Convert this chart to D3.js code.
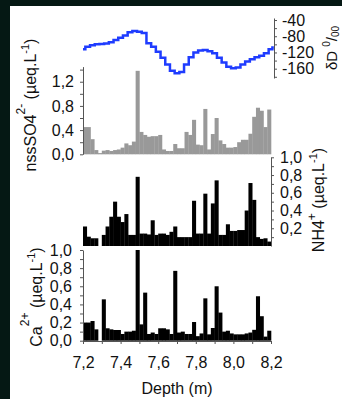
<!DOCTYPE html>
<html>
<head>
<meta charset="utf-8">
<script src="https://cdn.jsdelivr.net/npm/d3@7"></script>
<style>
  html, body { margin: 0; padding: 0; background: #051814; }
  svg { display: block; }
  text { font-family: "Liberation Sans", Arial, sans-serif; fill: #111; }
  .axis path, .axis line { stroke: #555; }
  .axis text { font-size: 16px; fill: #111; }
</style>
</head>
<body>
<script>
// sample depths (m), top of each sample
const depths = [7.20, 7.22, 7.24, 7.26, 7.28, 7.30, 7.32, 7.34, 7.36, 7.38,
  7.40, 7.42, 7.44, 7.46, 7.48, 7.50, 7.52, 7.54, 7.56, 7.58,
  7.60, 7.62, 7.64, 7.66, 7.68, 7.70, 7.72, 7.74, 7.76, 7.78,
  7.80, 7.82, 7.84, 7.86, 7.88, 7.90, 7.92, 7.94, 7.96, 7.98,
  8.00, 8.02, 8.04, 8.06, 8.08, 8.10, 8.12, 8.14, 8.16, 8.18];
const depthEnd = 8.2;

// nssSO4 2- (ueq/L)
const so4 = [0.45, 0.45, 0.25, 0.07, 0.02, 0.06, 0.07, 0.055, 0.07, 0.08,
  0.11, 0.18, 0.15, 0.21, 1.38, 0.37, 0.32, 0.29, 0.30, 0.30,
  0.32, 0.08, 0.055, 0.055, 0.17, 0.10, 0.10, 0.37, 0.32, 0.57,
  0.16, 0.15, 0.75, 0.08, 0.335, 0.60, 0.23, 0.17, 0.11, 0.11,
  0.12, 0.20, 0.24, 0.24, 0.34, 0.62, 0.77, 0.72, 0.45, 0.74];

// NH4+ (ueq/L)
const nh4 = [0.22, 0.105, 0.087, 0.087, 0, 0.125, 0.22, 0.33, 0.50, 0.33,
  0.27, 0.36, 0.125, 0.125, 0.78, 0.14, 0.14, 0.13, 0.29, 0.125,
  0.14, 0.14, 0.125, 0.16, 0.22, 0.10, 0.10, 0.10, 0.10, 0.51,
  0.14, 0.14, 0.59, 0.14, 0.48, 0.74, 0.125, 0.125, 0.245, 0.17,
  0.17, 0.18, 0.18, 0.40, 0.71, 0.52, 0.10, 0.08, 0.087, 0.05];

// Ca2+ (ueq/L)
const ca = [0.20, 0.20, 0.217, 0.125, 0, 0.456, 0.137, 0.125, 0.118, 0.118,
  0.074, 0.10, 0.10, 0.11, 1.00, 0.18, 0.53, 0.074, 0.09, 0.074,
  0.137, 0.137, 0.125, 0.074, 0.77, 0.09, 0.10, 0.074, 0.074, 0.206,
  0.05, 0.08, 0.467, 0.07, 0.14, 0.60, 0.31, 0.10, 0.11, 0.08,
  0.07, 0.07, 0.07, 0.08, 0.09, 0.12, 0.49, 0.27, 0.045, 0.11];

// deltaD record (permil)
const dDdepth = [7.200, 7.225, 7.250, 7.275, 7.300, 7.325, 7.350, 7.375, 7.400, 7.425,
  7.450, 7.475, 7.500, 7.525, 7.550, 7.575, 7.600, 7.625, 7.650, 7.675,
  7.700, 7.725, 7.750, 7.775, 7.800, 7.825, 7.850, 7.875, 7.900, 7.925,
  7.950, 7.975, 8.000, 8.025, 8.050, 8.075, 8.100, 8.125, 8.150, 8.175,
  8.200, 8.215];
const dD = [-112, -106, -102, -100, -99, -98, -95, -89, -84, -78,
  -70, -67, -69, -72, -97, -106, -118, -133, -150, -165,
  -171, -168, -150, -132, -120, -115, -114, -117, -122, -133,
  -145, -155, -159, -157, -150, -142, -137, -132, -128, -122,
  -112, -108];

const xTicks = [7.2, 7.4, 7.6, 7.8, 8.0, 8.2];
const comma = d => d3.format(".1f")(d).replace(".", ",");

const W = 342, H = 399;
const svg = d3.select("body").append("svg").attr("width", W).attr("height", H);

// white plotting sheet on the dark frame
svg.append("rect").attr("x", 10).attr("y", 6).attr("width", W - 10).attr("height", H - 6).attr("fill", "#fff");

const x = d3.scaleLinear().domain([7.2, 8.2]).range([83, 271]);

const ySO4 = d3.scaleLinear().domain([0, 1.45]).range([154.3, 66.6]);
const yNH4 = d3.scaleLinear().domain([0, 1.0]).range([246, 157.3]);
const yCa = d3.scaleLinear().domain([0, 1.0]).range([340.7, 250]);
const yD = d3.scaleLinear().domain([-183, -35]).range([78, 18]);

function nextDepth(i) {
  return i < depths.length - 1 ? depths[i + 1] : depthEnd;
}

function bars(values, y, color) {
  svg.append("g").selectAll("rect").data(values).join("rect")
    .attr("x", (d, i) => x(depths[i]))
    .attr("width", (d, i) => x(nextDepth(i)) - x(depths[i]) + 0.3)
    .attr("y", d => y(d))
    .attr("height", d => y(0) - y(d))
    .attr("fill", color);
}

bars(so4, ySO4, "#999999");
bars(nh4, yNH4, "#000000");
bars(ca, yCa, "#000000");

// deltaD stepped line
const line = d3.line()
  .x((d, i) => x(dDdepth[i]))
  .y(d => yD(d))
  .curve(d3.curveStep);

svg.append("path").datum(dD)
  .attr("d", line)
  .attr("fill", "none")
  .attr("stroke", "#1f3cff")
  .attr("stroke-width", 2.5);

// axes
function minor(axisFn, scale, vals, tx, ty) {
  svg.append("g").attr("class", "axis")
    .attr("transform", `translate(${tx},${ty})`)
    .call(axisFn(scale).tickValues(vals).tickFormat("").tickSize(3).tickSizeOuter(0))
    .select(".domain").remove();
}

svg.append("g").attr("class", "axis").attr("transform", "translate(83,0)")
  .call(d3.axisLeft(ySO4).tickValues([0, 0.4, 0.8, 1.2]).tickFormat(comma).tickSize(3).tickSizeOuter(0).tickPadding(6));
minor(d3.axisLeft, ySO4, [0.2, 0.6, 1.0, 1.4], 83, 0);

svg.append("g").attr("class", "axis").attr("transform", "translate(271,0)")
  .call(d3.axisRight(yNH4).tickValues([0.2, 0.4, 0.6, 0.8, 1.0]).tickFormat(comma).tickSize(3).tickSizeOuter(0).tickPadding(6));
minor(d3.axisRight, yNH4, [0.1, 0.3, 0.5, 0.7, 0.9], 271, 0);

svg.append("g").attr("class", "axis").attr("transform", "translate(83,0)")
  .call(d3.axisLeft(yCa).tickValues([0, 0.2, 0.4, 0.6, 0.8, 1.0]).tickFormat(comma).tickSize(3).tickSizeOuter(0).tickPadding(8));
minor(d3.axisLeft, yCa, [0.1, 0.3, 0.5, 0.7, 0.9], 83, 0);

svg.append("g").attr("class", "axis").attr("transform", "translate(274,0)")
  .call(d3.axisRight(yD).tickValues([-40, -80, -120, -160]).tickFormat(d => String(d)).tickSize(3).tickSizeOuter(0).tickPadding(5));
minor(d3.axisRight, yD, [-60, -100, -140, -180], 274, 0);

svg.append("g").attr("class", "axis").attr("transform", "translate(0,341)")
  .call(d3.axisBottom(x).tickValues(xTicks).tickFormat(comma).tickSize(3).tickSizeOuter(0).tickPadding(13));
minor(d3.axisBottom, x, [7.3, 7.5, 7.7, 7.9, 8.1], 0, 341);

// axis titles
svg.append("text").attr("x", 177).attr("y", 394).attr("text-anchor", "middle")
  .style("font-size", "16px").text("Depth (m)");

function vlabel(cx, cy, size, parts) {
  const t = svg.append("text")
    .attr("transform", `translate(${cx},${cy}) rotate(-90)`)
    .attr("text-anchor", "middle")
    .style("font-size", size);
  parts.forEach(p => {
    const s = t.append("tspan").text(p[0]);
    if (p[1]) s.attr("dy", p[1]);
    if (p[2]) s.style("font-size", p[2]);
  });
}

vlabel(35.5, 105, "16px", [["nssSO4"], ["2-", -11, "12px"], [" (µeq.L", 11], ["-1", -7, "11px"], [")", 7]]);
vlabel(324, 200, "16px", [["NH4"], ["+", -8, "12px"], [" (µeq.L", 8], ["-1", -7, "11px"], [")", 7]]);
vlabel(41.5, 297, "16px", [["Ca"], ["2+", -13, "12px"], [" (µeq.L", 13], ["-1", -7, "11px"], [")", 7]]);
vlabel(337, 48, "15px", [["δD "], ["0", -7, "10px"], ["/", 7], ["00", 2, "10px"]]);
</script>
</body>
</html>
